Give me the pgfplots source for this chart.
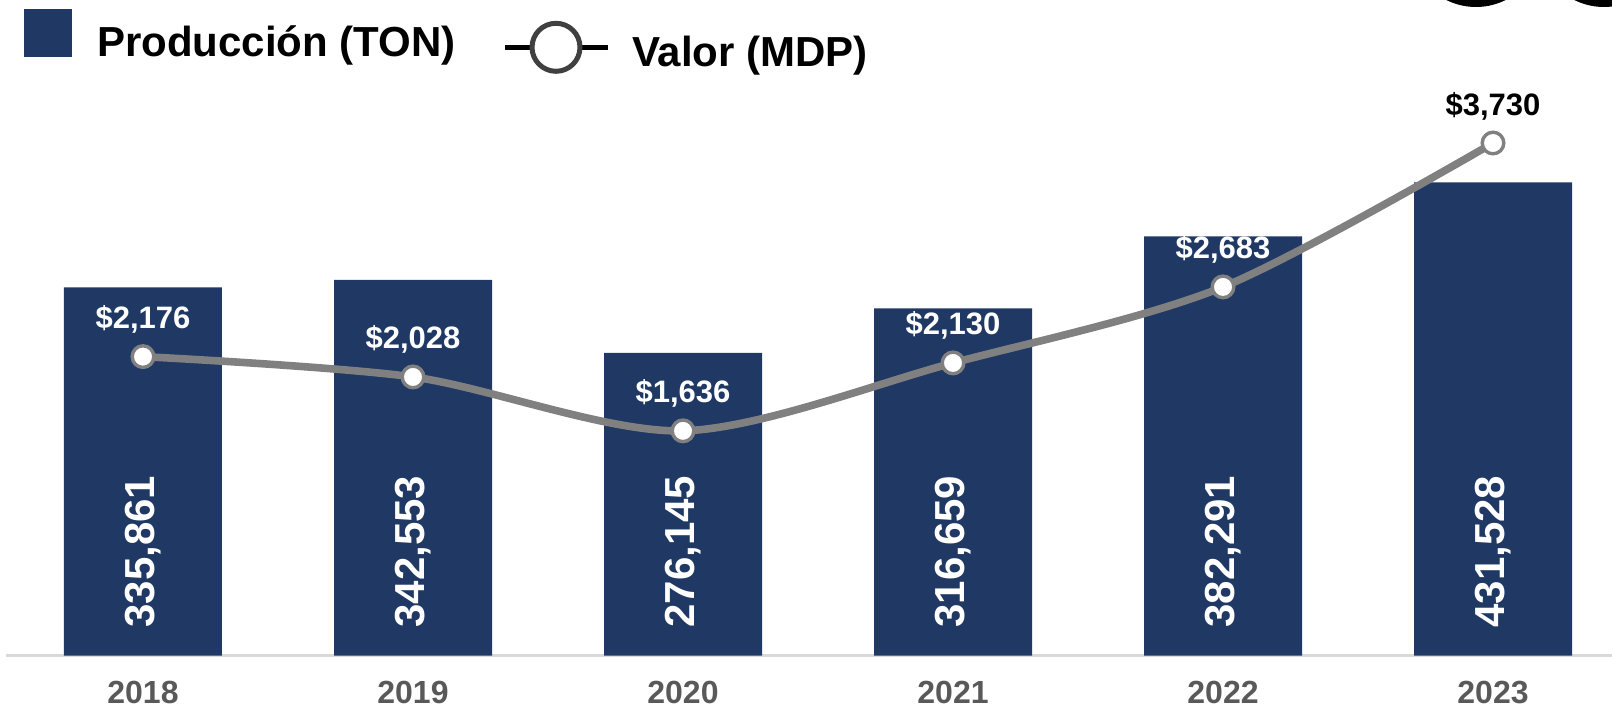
\documentclass[border=0pt]{standalone}
\usepackage{pgfplots}
\pgfplotsset{compat=1.18}
\usepackage{pgfplotstable}
\usepackage{fontspec}
\setmainfont{Liberation Sans}

\definecolor{navy}{HTML}{1F3864}
\definecolor{linegray}{HTML}{808080}
\definecolor{axisgray}{HTML}{D9D9D9}
\definecolor{labgray}{HTML}{595959}
\definecolor{leggray}{HTML}{404040}

\pgfkeys{/pgf/number format/.cd, fixed, precision=0, 1000 sep={,}, assume math mode=true}

% year, production (TON), value (MDP)
\pgfplotstableread{
x year prod val
0 2018 335861 2176
1 2019 342553 2028
2 2020 276145 1636
3 2021 316659 2130
4 2022 382291 2683
5 2023 431528 3730
}\data

\pgfplotsset{
  base/.style={
    at={(0,0)}, anchor=south west,
    scale only axis, width=803pt, height=277.85pt,
    xmin=-0.5074, xmax=5.4407,
    clip=false,
  },
  vallabel/.style={draw=none, mark=none, point meta=explicit,
    nodes near coords={\$\pgfmathprintnumber{\pgfplotspointmeta}},
    nodes near coords style={anchor=base, yshift=14pt, inner sep=0pt, text=#1,
      font=\fontsize{15.5}{15.5}\selectfont\bfseries}},
}

\begin{document}
\begin{tikzpicture}
\useasboundingbox (-3pt,-25.65pt) rectangle (803pt,327.85pt);

\begin{axis}[base,
  ymin=0, ymax=506600,
  axis y line=none, axis x line*=bottom,
  x axis line style={draw=axisgray, line width=1.3pt, -},
  xtick={0,...,5},
  xticklabels from table={\data}{year},
  major tick length=0pt,
  xticklabel style={font=\fontsize{16}{16}\selectfont\bfseries, text=labgray, anchor=base, yshift=-23.8pt},
]
\addplot[ybar, bar width=79pt, fill=navy, draw=none] table[x=x, y=prod] {\data};
\addplot[draw=none, mark=none, nodes near coords, point meta=explicit,
  nodes near coords style={yshift=13.85pt, rotate=90, anchor=west, inner sep=0pt,
    text=white, font=\fontsize{21}{21}\selectfont\bfseries}]
  table[x=x, y expr=0, meta=prod] {\data};
\end{axis}

\begin{axis}[base, ymin=0, ymax=4043, hide axis]
\addplot[linegray, line width=3.8pt, smooth, tension=0.5,
  mark=*, mark size=5.4pt, mark options={fill=white, draw=linegray, line width=1.7pt, solid}]
  table[x=x, y=val] {\data};
\addplot[vallabel=white, restrict x to domain=0:4] table[x=x, y=val, meta=val] {\data};
\addplot[vallabel=black, restrict x to domain=5:5] table[x=x, y=val, meta=val] {\data};
\end{axis}

% legend
\fill[navy] (9pt,299.35pt) rectangle (33pt,323.35pt);
\node[anchor=base west, inner sep=0pt] at (45.35pt,299.5pt)
  {\bfseries\fontsize{21}{24}\selectfont Producción (TON)};
\draw[black, line width=2.5pt] (249.5pt,304pt) -- (300.85pt,304pt);
\draw[leggray, line width=2.5pt, fill=white] (275pt,304.2pt) circle (12pt);
\node[anchor=base west, inner sep=0pt] at (312.85pt,294.5pt)
  {\bfseries\fontsize{21}{24}\selectfont Valor (MDP)};

% cut-off icons at the top right
\fill[black] (735pt,357.35pt) circle (33pt);
\fill[black] (799pt,357.35pt) circle (33pt);
\end{tikzpicture}
\end{document}
